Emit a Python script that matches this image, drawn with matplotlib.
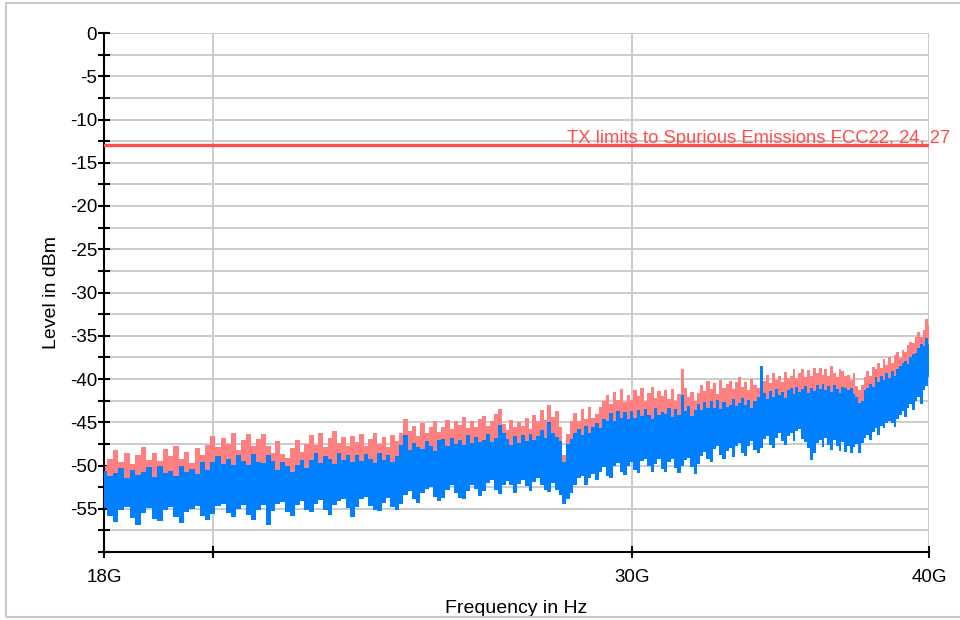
import numpy as np
import matplotlib
matplotlib.use("Agg")
import matplotlib.pyplot as plt
from matplotlib.ticker import FixedLocator, NullLocator, MultipleLocator, NullFormatter
from matplotlib.patches import Rectangle

plt.rcParams['font.family'] = ['Liberation Sans', 'DejaVu Sans']

# sweep grid: 18 GHz .. 40 GHz, 0.1 GHz step (221 points)
freq_ghz = np.round(np.arange(18.0, 40.0001, 0.1), 1)

red_hi = [
    -50.0, -49.3, -48.2, -49.6, -48.5, -49.8, -48.8, -47.9, -49.4, -48.6,
    -49.5, -48.1, -48.9, -47.8, -49.3, -48.4, -49.7, -48.0, -48.8, -47.6,
    -46.6, -47.9, -46.8, -47.5, -46.3, -48.2, -47.0, -46.4, -47.8, -46.9,
    -46.4, -47.7, -48.5, -47.2, -48.7, -49.1, -48.0, -47.1, -48.4, -47.5,
    -46.5, -47.6, -46.2, -47.9, -46.8, -46.0, -47.4, -46.7, -47.8, -46.6,
    -47.3, -46.4, -47.8, -46.9, -46.2, -47.5, -46.7, -47.9, -46.5, -47.2,
    -46.3, -44.6, -46.0, -45.4, -46.6, -45.1, -46.2, -45.6, -44.9, -46.1,
    -45.6, -44.7, -45.8, -44.9, -45.3, -44.4, -45.7, -44.8, -45.5, -44.6,
    -44.3, -45.4, -44.8, -44.1, -43.5, -45.2, -45.9, -44.7, -45.6, -45.0,
    -45.4, -44.5, -45.8, -44.2, -44.9, -43.6, -44.7, -43.0, -44.4, -43.7,
    -45.5, -48.8, -46.4, -44.8, -43.9, -44.9, -43.5, -44.6, -43.2, -44.5,
    -44.0, -43.2, -42.6, -41.8, -42.9, -41.5, -42.4, -41.2, -42.7, -41.9,
    -42.4, -41.3, -42.0, -41.0, -42.6, -41.6, -40.9, -42.2, -41.4, -42.0,
    -41.3, -42.3, -41.1, -42.5, -41.7, -38.9, -41.0, -42.1, -41.5, -42.6,
    -41.6, -40.7, -41.4, -40.2, -41.2, -40.5, -41.7, -40.1, -41.0, -40.6,
    -40.2, -41.1, -40.4, -39.8, -40.9, -40.3, -41.3, -40.0, -40.7, -41.0,
    -39.0, -40.2, -39.5, -40.5, -39.3, -40.1, -39.6, -40.4, -39.2, -39.9,
    -39.7, -38.8, -39.9, -39.3, -38.9, -39.8, -39.0, -39.6, -38.7, -39.3,
    -38.7, -39.5, -38.9, -39.6, -38.5, -39.3, -39.8, -38.8, -39.1, -39.7,
    -39.5, -40.1, -39.3, -40.8, -41.3, -40.7, -39.8, -39.1, -39.6, -38.6,
    -38.9, -38.2, -38.7, -37.7, -38.4, -37.5, -38.1, -37.2, -36.9, -37.6,
    -36.6, -36.9, -36.1, -35.7, -35.8, -35.1, -34.6, -35.2, -34.3, -33.1,
    -33.8,
]

blue_hi = [
    -50.6, -51.2, -50.9, -50.3, -51.4, -50.5, -51.1, -50.8, -50.2, -51.3,
    -50.1, -50.9, -50.6, -51.2, -50.0, -50.7, -50.4, -51.0, -49.6, -50.5,
    -49.6, -48.9, -49.8, -49.2, -49.9, -48.8, -49.5, -49.9, -48.7, -49.6,
    -49.7, -48.8, -49.5, -50.5, -49.6, -50.1, -50.7, -49.9, -49.4, -50.3,
    -49.4, -48.6, -49.7, -48.9, -49.3, -49.8, -48.5, -49.4, -48.8, -49.6,
    -48.8, -49.5, -48.7, -49.3, -49.7, -48.6, -49.4, -48.8, -49.6, -48.9,
    -47.6, -46.5, -48.2, -47.4, -47.9, -48.1, -47.2, -47.8, -48.3, -47.0,
    -46.9, -47.7, -46.8, -47.5, -47.1, -47.6, -46.5, -47.4, -46.7, -47.3,
    -47.0, -46.4, -47.3, -46.8, -45.3, -46.3, -46.9, -47.6, -46.6, -47.4,
    -46.5, -47.2, -46.4, -47.0, -46.6, -45.9, -46.8, -45.0, -46.2, -46.7,
    -47.2, -49.6, -47.5, -46.9, -46.3, -45.8, -46.5, -45.4, -46.2, -45.6,
    -45.1, -45.7, -44.6, -44.9, -43.9, -44.8, -43.7, -44.5, -43.8, -44.6,
    -43.7, -44.5, -43.6, -44.3, -43.5, -44.2, -44.6, -43.4, -44.2, -43.8,
    -44.1, -43.3, -44.4, -43.5, -44.2, -41.8, -43.7, -43.1, -44.3, -43.6,
    -42.9, -43.6, -42.7, -43.4, -42.6, -43.3, -42.4, -43.5, -42.7, -43.2,
    -43.0, -42.3, -43.1, -42.8, -42.2, -43.0, -42.4, -43.3, -42.6, -42.1,
    -38.5, -41.6, -42.3, -41.4, -42.1, -41.2, -41.9, -41.5, -42.2, -41.3,
    -41.0, -41.7, -40.9, -41.5, -41.2, -40.8, -41.6, -41.0, -41.4, -40.7,
    -41.2, -40.6, -41.3, -40.8, -41.5, -40.7, -41.1, -41.6, -40.9, -41.0,
    -41.3, -41.0, -41.7, -42.1, -42.8, -42.5, -41.3, -41.0, -40.6, -40.9,
    -39.8, -40.4, -39.6, -40.1, -39.3, -39.9, -39.1, -39.6, -38.9, -38.5,
    -38.2, -37.9, -38.3, -37.5, -37.1, -37.0, -36.4, -36.0, -36.2, -35.3,
    -35.9,
]

blue_lo = [
    -54.9, -55.8, -56.5, -55.2, -54.8, -56.1, -56.9, -55.5, -54.9, -56.2,
    -56.4, -55.1, -54.8, -55.9, -56.7, -55.4, -55.0, -54.7, -55.8, -56.3,
    -55.6, -54.7, -54.4, -55.5, -56.0, -55.0, -54.6, -55.7, -56.3, -55.1,
    -54.6, -56.9, -55.3, -54.5, -54.2, -55.4, -55.8, -54.6, -54.1, -55.2,
    -55.4, -54.4, -54.0, -55.1, -55.7, -54.6, -54.1, -53.9, -54.9, -56.0,
    -54.8, -53.9, -53.6, -54.7, -55.2, -55.3, -54.3, -53.8, -54.8, -55.1,
    -54.5, -53.4, -52.9, -53.9, -54.3, -53.2, -52.7, -52.5, -53.6, -54.1,
    -53.8, -52.8, -52.3, -53.2, -53.7, -53.9, -52.9, -52.2, -52.7, -53.5,
    -52.9, -52.0, -51.7, -52.8, -53.3, -52.2, -51.8, -52.3, -53.2, -52.1,
    -51.7, -52.4, -52.9, -51.9, -51.5, -52.2, -52.8, -53.1, -52.0, -52.8,
    -53.4, -54.5, -53.9, -53.2, -52.2, -51.5, -51.2, -52.2, -51.4, -51.0,
    -51.7, -50.8, -50.2, -51.2, -51.5, -50.1, -49.7, -50.7, -51.1, -50.0,
    -49.6, -50.5, -50.9, -49.5, -49.2, -50.1, -50.7, -49.8, -49.3, -50.4,
    -50.8, -49.6, -49.2, -50.3, -50.9, -50.0, -49.4, -49.1, -50.2, -51.0,
    -49.8, -48.9, -48.4, -49.2, -49.6, -48.1, -47.7, -48.8, -49.3, -48.3,
    -48.0, -49.0, -47.8, -47.4, -48.5, -48.9, -47.7, -47.2, -48.2, -48.6,
    -48.0, -46.9, -46.6, -47.6, -48.0, -46.8, -46.3, -47.2, -47.6, -46.6,
    -46.2, -47.2, -46.0, -45.8, -46.9, -47.3, -48.0, -49.4, -48.6, -47.4,
    -47.0, -47.9, -46.8, -47.6, -48.2, -47.1, -47.8, -48.3, -47.3, -48.4,
    -47.7, -48.6, -47.9, -47.5, -48.5, -47.4, -46.8, -46.5, -47.1, -46.1,
    -45.7, -46.5, -45.4, -45.7, -45.1, -44.8, -45.1, -45.6, -44.6, -44.2,
    -43.7, -44.4, -43.4, -42.9, -43.6, -42.6, -42.1, -42.9, -41.3, -40.8,
    -39.8,
]

limit_level = -13.0
limit_label = "TX limits to Spurious Emissions FCC22, 24, 27"
xtick_vals = [18e9, 20e9, 30e9, 40e9]
xtick_labels = ["18G", "", "30G", "40G"]

freq = freq_ghz * 1e9
red_hi = np.array(red_hi)
blue_hi = np.array(blue_hi)
blue_lo = np.array(blue_lo)

fig = plt.figure(figsize=(9.6, 6.2), dpi=100)
ax = fig.add_axes([104/960, 68/620, 825/960, 519/620])

# outer frame
fig.patches.append(Rectangle((6/960, 3/620), 1.0, 614/620, transform=fig.transFigure,
                             fill=False, edgecolor='#c8c8c8', linewidth=1.5))

ax.fill_between(freq, blue_lo, red_hi, step='mid', color='#ff8080', linewidth=0, zorder=2)
ax.fill_between(freq, blue_lo, blue_hi, step='mid', color='#0080ff', linewidth=0, zorder=3)

ax.axhline(limit_level, color='#ff4d4d', linewidth=2.4, zorder=4)
ax.annotate(limit_label, xy=(40e9, limit_level), xytext=(21, -2), textcoords='offset pixels',
            ha='right', va='bottom', color='#ff4d4d', fontsize=13.3, annotation_clip=False, zorder=5)

ax.set_xscale('log')
ax.set_xlim(18e9, 40e9)
ax.set_ylim(-60, 0)
ax.xaxis.set_major_locator(FixedLocator(xtick_vals))
ax.xaxis.set_minor_locator(NullLocator())
ax.set_xticklabels(xtick_labels)
ax.xaxis.set_minor_formatter(NullFormatter())
ax.yaxis.set_major_locator(MultipleLocator(5))
ax.yaxis.set_minor_locator(MultipleLocator(2.5))
ax.set_yticks(np.arange(-55, 1, 5))
ax.set_yticklabels([str(int(v)) for v in np.arange(-55, 1, 5)])

ax.grid(True, which='both', axis='y', color='#c8c8c8', linewidth=1.3, zorder=0)
ax.grid(True, which='major', axis='x', color='#c8c8c8', linewidth=1.3, zorder=0)
ax.set_axisbelow(True)

for s in ['top', 'right']:
    ax.spines[s].set_visible(False)
for s in ['left', 'bottom']:
    ax.spines[s].set_linewidth(1.5)
    ax.spines[s].set_color('black')

ax.tick_params(axis='y', which='both', direction='inout', length=8, width=1.5, labelsize=13.5, pad=1)
ax.tick_params(axis='x', which='major', direction='inout', length=9, width=1.5, labelsize=13.5, pad=8)

ax.set_ylabel("Level in dBm", fontsize=14, labelpad=7)
ax.set_xlabel("Frequency in Hz", fontsize=14, labelpad=10)

fig.savefig("out.png", dpi=100)
